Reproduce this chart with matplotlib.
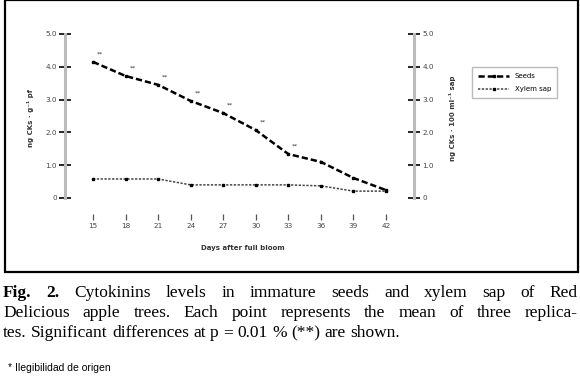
import matplotlib
matplotlib.use("Agg")
import matplotlib.pyplot as plt
from matplotlib.patches import Rectangle

# ---- data ----
days = ["15", "18", "21", "24", "27", "30", "33", "36", "39", "42"]
seeds = [4.15, 3.72, 3.45, 2.96, 2.59, 2.07, 1.34, 1.10, 0.61, 0.24]
xylem = [0.58, 0.58, 0.58, 0.40, 0.40, 0.40, 0.40, 0.37, 0.21, 0.21]
signif = ["**", "**", "**", "**", "**", "**", "**", "", "", ""]
yticks = [0, 1, 2, 3, 4, 5]
yticklabels = ["0", "1.0", "2.0", "3.0", "4.0", "5.0"]

W, H = 580, 389
fig = plt.figure(figsize=(W / 100, H / 100), dpi=100)

def fx(px):
    return px / W

def fy(py):
    return 1 - py / H

# outer frame of the figure box
fig.patches.append(Rectangle((fx(5), fy(272)), fx(573), 272 / H, transform=fig.transFigure,
                             fill=False, edgecolor="black", linewidth=1.6))

ax = fig.add_axes([fx(65), fy(198), fx(414 - 65), (198 - 34) / H])
x = list(range(len(days)))
ax.plot(x, seeds, color="black", linewidth=1.8, linestyle=(0, (2.5, 1.2)),
        marker="s", markersize=2, label="Seeds")
ax.plot(x, xylem, color="#444444", linewidth=1.1, linestyle=(0, (1.5, 1)),
        marker="s", markersize=2, markerfacecolor="black", markeredgecolor="black",
        label="Xylem sap")
for xi, yi, s in zip(x, seeds, signif):
    if s:
        ax.annotate(s, (xi, yi), xytext=(5, 4), textcoords="offset points",
                    fontsize=4.5, color="#333333", ha="center", va="bottom")

ax.set_xlim(-0.86, 9.86)
ax.set_ylim(0, 5)
ax.set_yticks(yticks)
ax.set_yticklabels(yticklabels)
ax.set_xticks(x)
ax.set_xticklabels(days)

ax.spines["top"].set_visible(False)
ax.spines["bottom"].set_position(("outward", 14))
ax.spines["bottom"].set_visible(False)
for side in ("left", "right"):
    ax.spines[side].set_color("#bbbbbb")
    ax.spines[side].set_linewidth(2.2)

ax.tick_params(axis="x", direction="inout", length=5, width=0.9, color="#555555",
               labelsize=5.2, labelcolor="#444444", pad=1.5)
ax.tick_params(axis="y", direction="inout", length=9, width=1.2, color="black",
               labelsize=5.2, labelcolor="#444444", pad=1.5)
ax.tick_params(axis="y", right=True, labelright=True)
ax.patch.set_alpha(0)

fig.text(fx(243), fy(248), "Days after full bloom", fontsize=5, color="#333333",
         ha="center", va="center", fontweight="bold")
fig.text(fx(30), fy(118), "ng CKs · g⁻¹ pf", fontsize=5, color="#333333",
         ha="center", va="center", rotation=90, fontweight="bold")
fig.text(fx(453), fy(118), "ng CKs · 100 ml⁻¹ sap", fontsize=5, color="#333333",
         ha="center", va="center", rotation=90, fontweight="bold")

leg = ax.legend(loc="upper left", bbox_to_anchor=(fx(469), fy(64)),
                bbox_transform=fig.transFigure, fontsize=5, frameon=True,
                fancybox=False, edgecolor="#aaaaaa", handlelength=4.5,
                borderpad=0.8, labelspacing=1.0)
leg.get_frame().set_linewidth(1.0)

# ---- caption ----
serif = "Liberation Serif"
cap_size = 12.5
renderer = fig.canvas.get_renderer()

def text_width(s, bold=False):
    t = fig.text(0, 0, s, fontsize=cap_size, family=serif,
                 fontweight="bold" if bold else "normal")
    w = t.get_window_extent(renderer).width
    t.remove()
    return w

space_w = text_width("a a") - 2 * text_width("a")

def place_line(words, y, x0, x1=None, bold_n=0):
    texts = []
    for i, w in enumerate(words):
        t = fig.text(0, fy(y), w, fontsize=cap_size, family=serif,
                     fontweight="bold" if i < bold_n else "normal",
                     va="center", ha="left")
        texts.append(t)
    widths = [t.get_window_extent(renderer).width for t in texts]
    if x1 is not None and len(words) > 1:
        gap = (x1 - x0 - sum(widths)) / (len(words) - 1)
    else:
        gap = space_w
    cur = x0
    for t, wd in zip(texts, widths):
        t.set_x(fx(cur))
        cur += wd + gap

place_line("Fig. 2. Cytokinins levels in immature seeds and xylem sap of Red".split(" "),
           293, 3, 578, bold_n=2)
place_line("Delicious apple trees. Each point represents the mean of three replica-".split(" "),
           313, 3, 578)
place_line("tes. Significant differences at p = 0.01 % (**) are shown.".split(" "),
           333, 3)

fig.text(fx(8), fy(368), "* Ilegibilidad de origen", fontsize=7.5,
         family="Liberation Sans", va="center", ha="left")

fig.savefig("out.png", dpi=100)
